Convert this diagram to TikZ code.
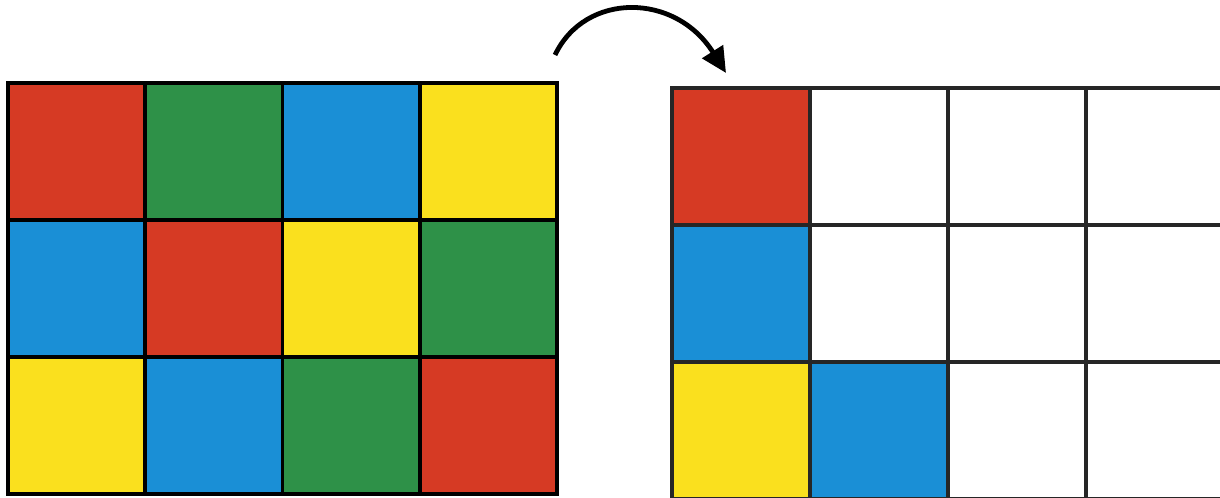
\documentclass[tikz,border=0pt]{standalone}
\usetikzlibrary{arrows.meta}
\definecolor{cred}{RGB}{214,58,36}
\definecolor{cgreen}{RGB}{46,145,72}
\definecolor{cblue}{RGB}{26,143,214}
\definecolor{cyellow}{RGB}{250,224,30}
\tikzset{
  cell/.style={draw=black, line width=2.6pt, inner sep=0, minimum width=3.43cm, minimum height=3.425cm},
  rcell/.style={draw=black!85, line width=2.2pt, inner sep=0, minimum width=3.45cm, minimum height=3.425cm, fill=white}
}
\begin{document}
\begin{tikzpicture}[x=0.025cm,y=-0.025cm]
\useasboundingbox[fill=white] (0,0) rectangle (1220,498);
% left grid
\node[cell, fill=cred] (l11) at (76.6,151.5) {};
\node[cell, fill=cgreen] (l12) at (213.9,151.5) {};
\node[cell, fill=cblue] (l13) at (351.1,151.5) {};
\node[cell, fill=cyellow] (l14) at (488.4,151.5) {};
\node[cell, fill=cblue] (l21) at (76.6,288.5) {};
\node[cell, fill=cred] (l22) at (213.9,288.5) {};
\node[cell, fill=cyellow] (l23) at (351.1,288.5) {};
\node[cell, fill=cgreen] (l24) at (488.4,288.5) {};
\node[cell, fill=cyellow] (l31) at (76.6,425.5) {};
\node[cell, fill=cblue] (l32) at (213.9,425.5) {};
\node[cell, fill=cgreen] (l33) at (351.1,425.5) {};
\node[cell, fill=cred] (l34) at (488.4,425.5) {};
% right grid
\node[rcell, fill=cred] (r11) at (741,156.5) {};
\node[rcell] (r12) at (879,156.5) {};
\node[rcell] (r13) at (1017,156.5) {};
\node[rcell] (r14) at (1155,156.5) {};
\node[rcell, fill=cblue] (r21) at (741,293.5) {};
\node[rcell] (r22) at (879,293.5) {};
\node[rcell] (r23) at (1017,293.5) {};
\node[rcell] (r24) at (1155,293.5) {};
\node[rcell, fill=cyellow] (r31) at (741,430.5) {};
\node[rcell, fill=cblue] (r32) at (879,430.5) {};
\node[rcell] (r33) at (1017,430.5) {};
\node[rcell] (r34) at (1155,430.5) {};
% arrow
\coordinate (from) at (555,55);
\coordinate (to) at (726,73);
\draw[line width=3.4pt, -{Triangle[length=18pt,width=17pt]}] (from) .. controls (585,-8) and (675,-8) .. (to);
\end{tikzpicture}
\end{document}
